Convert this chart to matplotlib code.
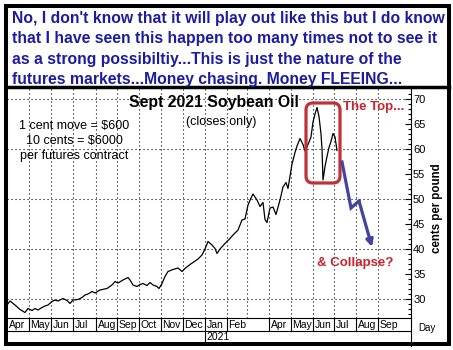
import matplotlib
matplotlib.use('Agg')
import matplotlib.pyplot as plt
from matplotlib.patches import FancyBboxPatch, Rectangle
from matplotlib.transforms import blended_transform_factory
from matplotlib.lines import Line2D

plt.rcParams['font.family'] = ['Liberation Sans', 'DejaVu Sans']

# closes of Sept 2021 soybean oil (day index from Apr 2020)
day = [0, 3, 8, 13, 18, 21, 25, 28, 31, 35, 38, 41, 45, 48, 51, 56, 60, 63, 66, 71,
       75, 78, 81, 85, 88, 93, 100, 105, 108, 111, 116, 121, 123, 126, 130, 133, 136,
       140, 143, 146, 150, 152, 155, 158, 161, 166, 171, 175, 178, 183, 186, 191, 195,
       198, 201, 205, 208, 210, 213, 218, 223, 226, 231, 235, 238, 241, 244, 246, 248,
       250, 253, 256, 258, 260, 263, 266, 269, 273, 276, 279, 281, 285, 288, 290, 293,
       296, 298, 301, 304, 306, 308, 310, 312, 314, 315, 316, 318, 320, 322, 324, 326,
       328, 330]
close = [28.8, 29.6, 28.8, 27.9, 27.3, 28.1, 27.7, 28.1, 27.8, 28.3, 28.6, 28.8, 29.5,
         29.8, 29.6, 30.1, 29.7, 29.1, 29.8, 29.9, 30.3, 30.8, 31.0, 31.5, 31.2, 31.8,
         32.1, 32.8, 33.5, 33.2, 33.8, 34.3, 33.8, 32.8, 32.5, 32.9, 33.1, 32.7, 33.3,
         32.8, 32.5, 32.1, 33.1, 34.5, 35.5, 35.9, 36.2, 35.5, 36.1, 36.9, 37.3, 38.0,
         38.8, 40.0, 41.5, 40.8, 40.1, 39.1, 40.0, 41.1, 42.1, 42.8, 43.8, 45.8, 46.0,
         48.8, 50.2, 51.0, 50.4, 49.8, 48.5, 49.3, 45.9, 45.3, 48.2, 48.4, 46.9, 49.8,
         52.4, 53.3, 52.1, 57.0, 59.3, 60.6, 62.1, 60.9, 59.6, 60.9, 62.4, 65.4, 67.0,
         68.3, 66.5, 63.0, 60.0, 53.8, 56.5, 58.5, 60.3, 61.5, 63.1, 62.4, 59.7]

month_labels = ['Apr', 'May', 'Jun', 'Jul', 'Aug', 'Sep', 'Oct', 'Nov', 'Dec', 'Jan',
                'Feb', '', 'Apr', 'May', 'Jun', 'Jul', 'Aug', 'Sep']
month_starts = [0, 22, 44, 66, 89, 110, 132, 154, 176, 198, 220, 240, 262, 284, 306,
                327, 349, 371]
year_label = '2021'
year_start = 198

# the projected slide
proj_day = [335, 344, 352, 365]
proj_price = [57.4, 48.2, 49.6, 40.4]

note_lines = [
    "No, I don't know that it will play out like this but I do know",
    "that I have seen this happen too many times not to see it",
    "as a strong possibiltiy...This is just the nature of the",
    "futures markets...Money chasing. Money FLEEING...",
]

W, H = 453, 350
BLUE = '#1c1ca0'
RED = '#cc2229'


def fx(px):
    return px / W


def fy(py):
    return 1 - py / H


fig = plt.figure(figsize=(W / 100, H / 100), dpi=100)
fig.patch.set_facecolor('white')

ax = fig.add_axes([fx(7), fy(318), fx(411) - fx(7), fy(89) - fy(318)])
ax.set_xlim(0, 404)
ax.set_ylim(26.2, 72.0)

# dotted grid
for v in range(30, 71, 10):
    ax.axhline(v, color='black', lw=0.8, dashes=(1, 2.6), zorder=1)
for s in month_starts[1:]:
    ax.axvline(s, color='black', lw=0.8, dashes=(1, 2.6), zorder=1)

ax.plot(day, close, color='black', lw=0.9, zorder=3)

# axes / ticks
ax.yaxis.tick_right()
ax.set_yticks(range(30, 71, 5))
ax.set_yticks(range(27, 72), minor=True)
ax.tick_params(axis='y', which='major', direction='in', length=4, width=0.8,
               pad=1.5, labelsize=8)
ax.tick_params(axis='y', which='minor', direction='in', length=2, width=0.8)
ax.set_xticks([])
for side in ['left', 'top']:
    ax.spines[side].set_visible(False)
for side in ['right', 'bottom']:
    ax.spines[side].set_linewidth(0.8)

# month / year rows under the plot
trans = blended_transform_factory(ax.transData, fig.transFigure)
ax.plot([0, 404], [fy(331), fy(331)], transform=trans, clip_on=False,
        color='black', lw=0.8)
for lab, s in zip(month_labels, month_starts):
    if not lab:
        continue
    if s > 0:
        ax.plot([s, s], [fy(318), fy(331)], transform=trans, clip_on=False,
                color='black', lw=0.8)
    ax.text(s + 1.5, fy(325), lab, transform=trans, ha='left', va='center',
            fontsize=7.5)
ax.plot([year_start, year_start], [fy(331), fy(343)], transform=trans,
        clip_on=False, color='black', lw=0.8)
ax.text(year_start + 1.5, fy(337.5), year_label, transform=trans, ha='left',
        va='center', fontsize=7.5)

fig.add_artist(Line2D([fx(411), fx(411)], [fy(318), fy(346)], color='black', lw=0.8))
fig.text(fx(427), fy(328), 'Day', ha='center', va='center', fontsize=7)
fig.text(fx(437), fy(208), 'cents per pound', rotation=90, ha='center',
         va='center', fontsize=8.3, fontweight='bold')

# annotations
fig.text(fx(214), fy(103), 'Sept 2021 Soybean Oil', ha='center', va='center',
         fontsize=11.4, fontweight='bold')
fig.text(fx(221), fy(122), '(closes only)', ha='center', va='center', fontsize=9)
for i, t in enumerate(['1 cent move = $600', '10 cents = $6000',
                       'per futures contract']):
    fig.text(fx(74), fy(126 + 15 * i), t, ha='center', va='center', fontsize=9)

box = FancyBboxPatch((299, 53.2), 34, 16, boxstyle='round,pad=0,rounding_size=7',
                     mutation_aspect=0.2, fill=False, ec='#c03038', lw=2.3, zorder=4)
ax.add_patch(box)
fig.text(fx(343), fy(107), 'The Top...', ha='left', va='center', fontsize=9.5,
         fontweight='bold', color=RED)
fig.text(fx(355), fy(263), '& Collapse?', ha='center', va='center', fontsize=9.5,
         fontweight='bold', color=RED)

ax.plot(proj_day[:-1], proj_price[:-1], color='#4444a0', lw=2.3, zorder=4,
        solid_joinstyle='miter')
ax.annotate('', xy=(proj_day[-1], proj_price[-1]),
            xytext=(proj_day[-2], proj_price[-2]),
            arrowprops=dict(arrowstyle='-|>', color='#4444a0', lw=2.3,
                            mutation_scale=10, shrinkA=0, shrinkB=0), zorder=4)

# note at the top
for i, t in enumerate(note_lines):
    fig.text(fx(12), fy(23 + 20.3 * i), t, ha='left', va='baseline', fontsize=11.3,
             fontweight='bold', color=BLUE)

# frame
fig.add_artist(Rectangle((fx(6), fy(344)), fx(449) - fx(6), fy(6) - fy(344),
                         fill=False, ec='black', lw=2.9))
fig.add_artist(Line2D([fx(6), fx(449)], [fy(87), fy(87)], color='black', lw=2.5))

fig.savefig('out.png', dpi=100)
